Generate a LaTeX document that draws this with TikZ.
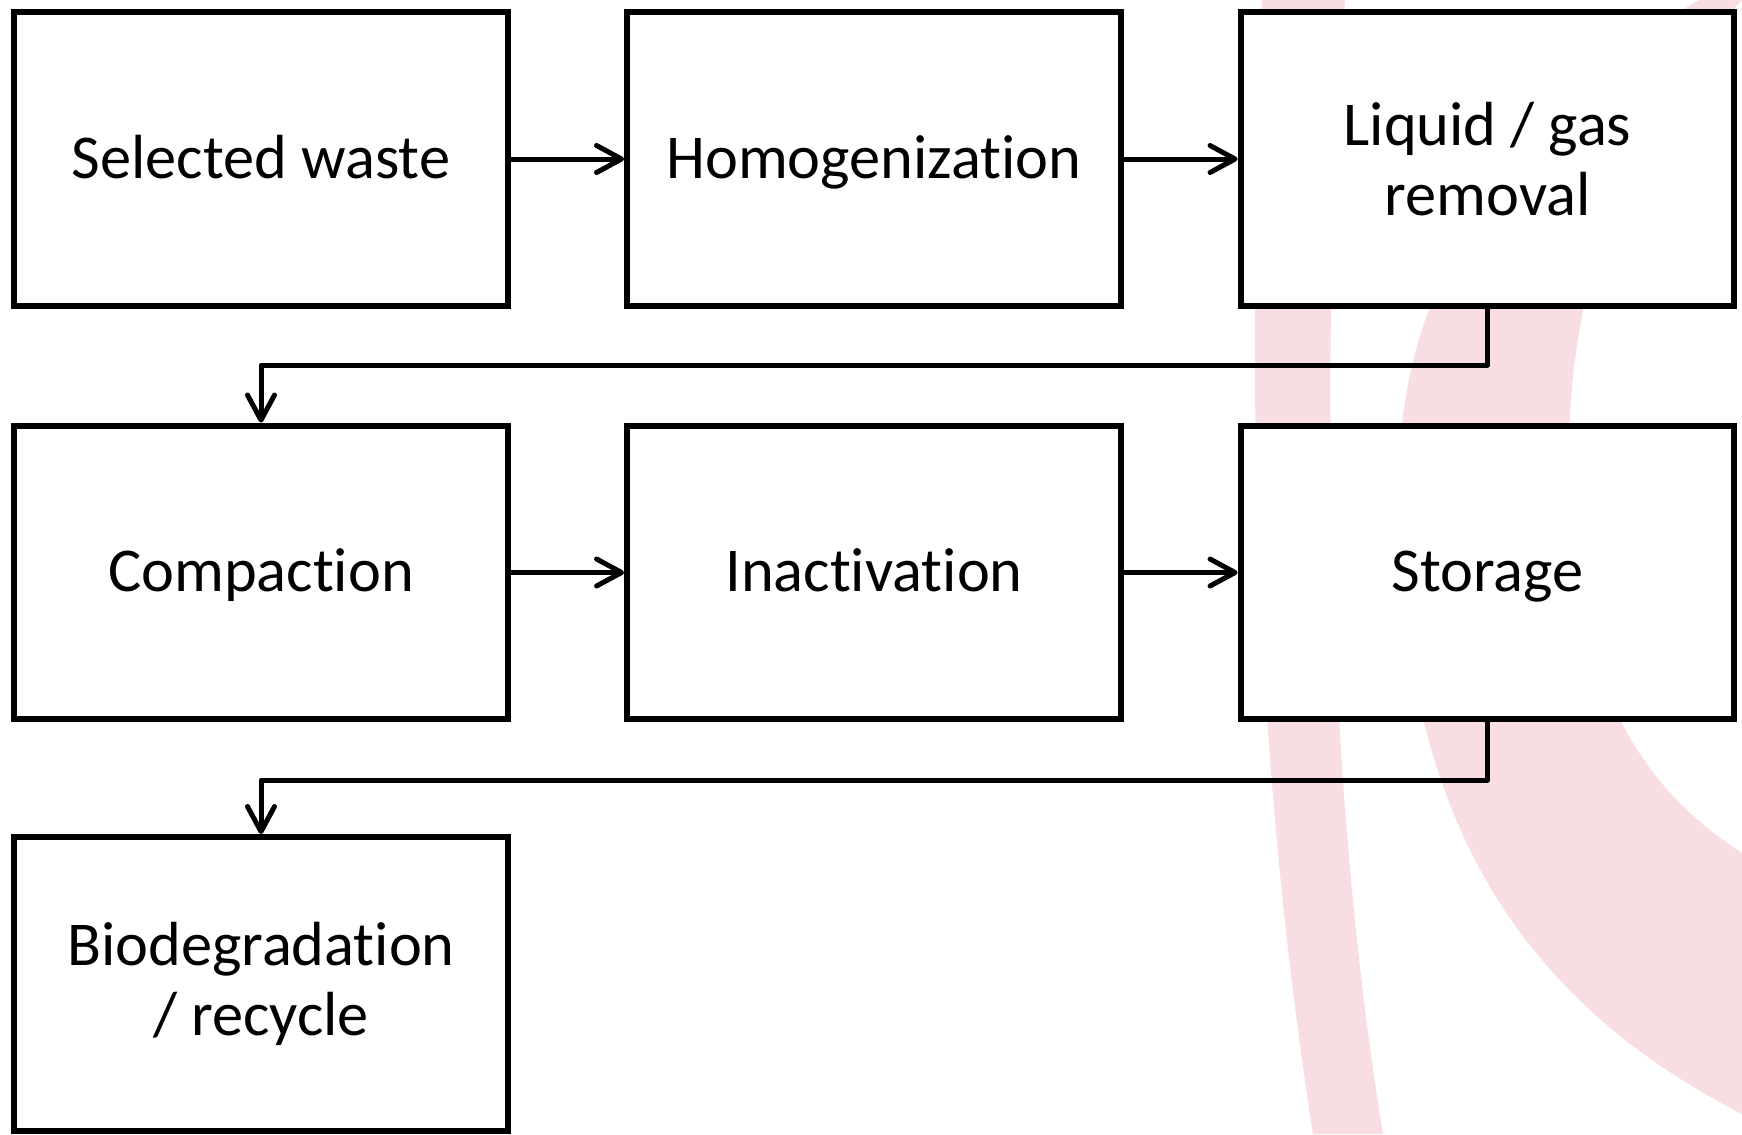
\documentclass[tikz,border=0pt]{standalone}
\usepackage{fontspec}
\setmainfont{Carlito}[Ligatures=NoCommon]
\usetikzlibrary{arrows.meta,positioning}
\definecolor{wmark}{RGB}{248,222,227}
\tikzset{stage/.style={rectangle,draw=black,fill=white,line width=0.12cm,
    minimum width=9.88cm,minimum height=5.88cm,align=center,
    font=\fontsize{35.5}{39.5}\selectfont}}
\tikzset{oneline/.style={text height=0.95cm,text depth=0.19cm}}
\tikzset{flow/.style={-{Straight Barb[length=0.5cm,width=0.54cm,round]},
    line width=0.1cm}}

\begin{document}
\begin{tikzpicture}[x=0.02cm,y=-0.02cm]
\useasboundingbox (0,0) rectangle (1742,1134);
% watermark bands
\fill[wmark] (1262,0) .. controls (1250,300) and (1245,700) .. (1313,1134)
  -- (1383,1134) .. controls (1320,750) and (1322,300) .. (1345,0) -- cycle;
\fill[wmark] (1742,1114) .. controls (1480,980) and (1390,760) .. (1400,450)
  .. controls (1410,250) and (1550,80) .. (1700,0) -- (1742,0)
  .. controls (1600,150) and (1550,350) .. (1575,560)
  .. controls (1595,720) and (1660,800) .. (1742,853) -- cycle;
%
\node (st1) [stage,oneline] at (261,159) {Selected waste};
\node (st2) [stage,oneline] at (874,159) {Homogenization};
\node (st3) [stage] at (1487.5,159) {Liquid / gas\\removal};
\node (st4) [stage,oneline] at (261,572.5) {Compaction};
\node (st5) [stage,oneline] at (874,572.5) {Inactivation};
\node (st6) [stage,oneline] at (1487.5,572.5) {Storage};
\node (st7) [stage] at (261,984) {Biodegradation\\/ recycle};
\coordinate (b1) at (1487.5,365);
\coordinate (b2) at (1487.5,780);
%
\draw[flow] (st1) -- (st2);
\draw[flow] (st2) -- (st3);
\draw[flow,line join=round] (st3.south) -- (b1) -| (st4.north);
\draw[flow] (st4) -- (st5);
\draw[flow] (st5) -- (st6);
\draw[flow,line join=round] (st6.south) -- (b2) -| (st7.north);
%
\end{tikzpicture}
\end{document}
